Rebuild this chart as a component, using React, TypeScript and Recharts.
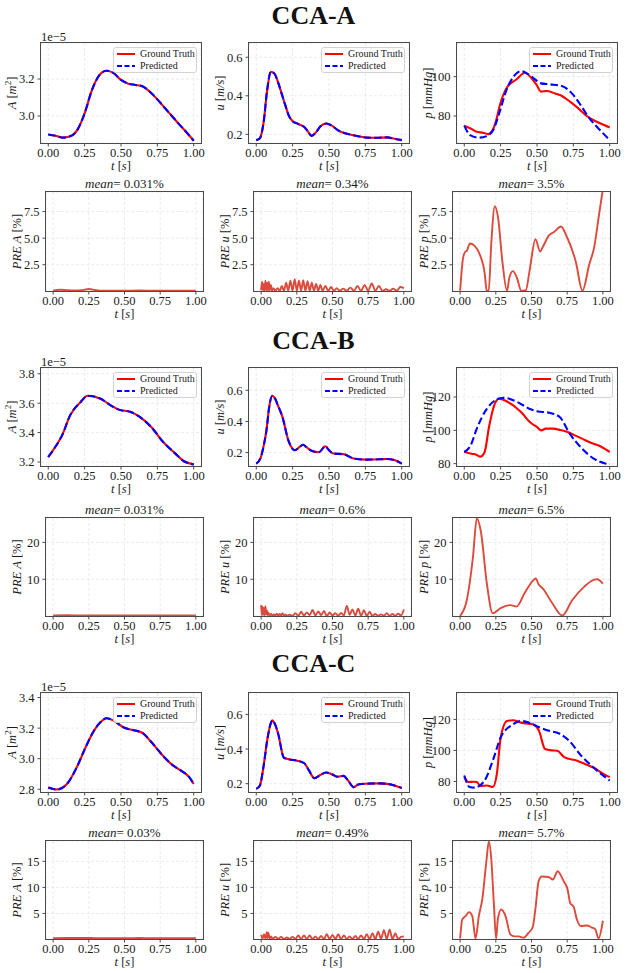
import React from 'react';
import { LineChart, Line, XAxis, YAxis, CartesianGrid, Legend, Label } from 'recharts';

// ---------------- DATA ----------------
const X_TICKS = [0, 0.25, 0.5, 0.75, 1];

// CCA-A
const tA_A = [0, 0.05, 0.1, 0.15, 0.2, 0.25, 0.3, 0.35, 0.4, 0.45, 0.5, 0.55, 0.6, 0.65, 0.7, 0.75, 0.8, 0.85, 0.9, 0.95, 1.0];
const vA_A = [2.9, 2.893, 2.883, 2.89, 2.925, 3.015, 3.14, 3.22, 3.245, 3.232, 3.195, 3.175, 3.168, 3.16, 3.13, 3.09, 3.045, 3.0, 2.955, 2.912, 2.866];
const tA_u = [0, 0.025, 0.05, 0.075, 0.1, 0.125, 0.15, 0.175, 0.2, 0.225, 0.25, 0.275, 0.3, 0.33, 0.355, 0.38, 0.41, 0.44, 0.48, 0.52, 0.56, 0.6, 0.65, 0.7, 0.76, 0.82, 0.9, 0.95, 1.0];
const vA_u = [0.17, 0.18, 0.26, 0.43, 0.525, 0.515, 0.47, 0.41, 0.35, 0.295, 0.268, 0.258, 0.25, 0.238, 0.215, 0.192, 0.21, 0.24, 0.256, 0.245, 0.222, 0.208, 0.198, 0.19, 0.183, 0.182, 0.184, 0.177, 0.17];
const tA_pGT = [0, 0.04, 0.085, 0.13, 0.165, 0.195, 0.22, 0.245, 0.29, 0.36, 0.417, 0.463, 0.5, 0.527, 0.567, 0.62, 0.658, 0.727, 0.79, 0.842, 0.9, 0.933, 1.0];
const vA_pGT = [75.1, 73.8, 72.0, 71.5, 70.8, 72.9, 78, 85.6, 94.1, 98.7, 102.0, 99.2, 95.5, 92.4, 92.7, 91.6, 90.7, 87.3, 83.5, 80.0, 77.5, 76.3, 74.2];
const tA_pPR = [0, 0.04, 0.1, 0.154, 0.2, 0.24, 0.29, 0.36, 0.39, 0.43, 0.48, 0.527, 0.589, 0.67, 0.74, 0.8, 0.853, 0.933, 1.0];
const vA_pPR = [75.1, 70.3, 69.0, 69.8, 73.0, 81.4, 93.2, 101.7, 102.9, 101.7, 99.0, 96.6, 96.1, 95.3, 91.5, 85.6, 79.6, 72.9, 67.8];
const tA_preA = [0, 0.05, 0.1, 0.15, 0.2, 0.25, 0.3, 0.35, 0.4, 0.5, 0.6, 0.7, 0.8, 0.9, 1.0];
const vA_preA = [0.05, 0.15, 0.1, 0.08, 0.1, 0.22, 0.1, 0.05, 0.06, 0.05, 0.08, 0.06, 0.05, 0.07, 0.05];
const tA_preU = [0, 0.006, 0.012, 0.018, 0.024, 0.03, 0.036, 0.042, 0.048, 0.054, 0.06, 0.068, 0.076, 0.085, 0.1, 0.115, 0.13, 0.145, 0.16, 0.175, 0.19, 0.205, 0.22, 0.235, 0.25, 0.265, 0.28, 0.295, 0.31, 0.325, 0.34, 0.355, 0.37, 0.385, 0.4, 0.415, 0.43, 0.45, 0.47, 0.49, 0.51, 0.53, 0.55, 0.575, 0.6, 0.625, 0.65, 0.675, 0.7, 0.725, 0.75, 0.775, 0.8, 0.825, 0.85, 0.875, 0.9, 0.925, 0.95, 0.975, 1.0];
const vA_preU = [0.1, 0.9, 0.1, 0.7, 0.05, 1.0, 0.1, 0.8, 0.05, 0.9, 0.1, 0.6, 0.05, 0.3, 0.05, 0.3, 0.05, 0.5, 0.05, 0.8, 0.05, 1.0, 0.05, 1.15, 0.05, 1.0, 0.05, 1.05, 0.05, 0.95, 0.05, 0.8, 0.05, 0.7, 0.05, 0.6, 0.05, 0.5, 0.05, 0.4, 0.05, 0.3, 0.05, 0.25, 0.05, 0.35, 0.05, 0.5, 0.05, 0.6, 0.05, 0.75, 0.05, 0.5, 0.05, 0.2, 0.05, 0.25, 0.05, 0.4, 0.3];
const tA_preP = [0, 0.02, 0.035, 0.047, 0.068, 0.1, 0.138, 0.173, 0.186, 0.2, 0.219, 0.243, 0.266, 0.296, 0.328, 0.345, 0.37, 0.397, 0.428, 0.46, 0.486, 0.528, 0.56, 0.58, 0.625, 0.66, 0.707, 0.742, 0.81, 0.857, 0.904, 0.94, 0.973, 1.0];
const vA_preP = [0.05, 3.1, 3.7, 3.8, 4.5, 4.3, 3.45, 1.6, 0.05, 0.05, 4.7, 8.0, 6.9, 2.8, 0.05, 1.3, 1.9, 1.3, 0.05, 0.1, 1.9, 4.9, 3.75, 4.2, 5.3, 5.6, 6.1, 5.3, 2.8, 0.05, 2.5, 4.2, 7.2, 9.6];

// CCA-B
const tB_A = [0, 0.04, 0.095, 0.15, 0.22, 0.27, 0.36, 0.429, 0.485, 0.568, 0.624, 0.708, 0.79, 0.874, 0.93, 1.0];
const vB_A = [3.234, 3.29, 3.381, 3.517, 3.605, 3.65, 3.63, 3.585, 3.556, 3.54, 3.51, 3.438, 3.336, 3.257, 3.207, 3.184];
const tB_u = [0, 0.028, 0.05, 0.07, 0.09, 0.11, 0.13, 0.15, 0.18, 0.22, 0.265, 0.3, 0.322, 0.345, 0.38, 0.43, 0.475, 0.5, 0.53, 0.6, 0.67, 0.75, 0.85, 0.9, 0.95, 1.0];
const vB_u = [0.129, 0.161, 0.24, 0.343, 0.5, 0.565, 0.545, 0.5, 0.429, 0.28, 0.215, 0.238, 0.25, 0.235, 0.212, 0.202, 0.241, 0.215, 0.194, 0.19, 0.162, 0.155, 0.157, 0.159, 0.152, 0.129];
const tB_pGT = [0, 0.05, 0.083, 0.11, 0.14, 0.17, 0.21, 0.24, 0.3, 0.39, 0.45, 0.5, 0.53, 0.56, 0.61, 0.66, 0.71, 0.76, 0.81, 0.87, 0.92, 1.0];
const vB_pGT = [87, 86, 85.4, 84.2, 87, 102, 116, 119, 117, 111, 105, 102, 100, 101, 101, 100.2, 99, 97, 95, 92.5, 91, 87];
const tB_pPR = [0, 0.044, 0.086, 0.156, 0.225, 0.27, 0.364, 0.447, 0.5, 0.586, 0.656, 0.725, 0.81, 0.89, 0.975, 1.0];
const vB_pPR = [87, 91, 101, 113, 118.6, 119.5, 117, 113, 111.5, 110.5, 108, 98, 89, 83, 80, 79.6];
const tB_preA = [0, 0.1, 0.2, 0.3, 0.4, 0.5, 0.6, 0.7, 0.8, 0.9, 1.0];
const vB_preA = [0.2, 0.25, 0.2, 0.22, 0.2, 0.18, 0.2, 0.22, 0.2, 0.18, 0.2];
const tB_preU = [0, 0.005, 0.01, 0.015, 0.02, 0.025, 0.03, 0.035, 0.04, 0.045, 0.05, 0.06, 0.07, 0.08, 0.09, 0.1, 0.11, 0.12, 0.13, 0.14, 0.15, 0.16, 0.17, 0.18, 0.2, 0.22, 0.24, 0.26, 0.28, 0.3, 0.32, 0.34, 0.36, 0.38, 0.4, 0.42, 0.44, 0.46, 0.48, 0.5, 0.52, 0.54, 0.56, 0.58, 0.6, 0.62, 0.64, 0.66, 0.68, 0.7, 0.72, 0.74, 0.76, 0.78, 0.8, 0.82, 0.84, 0.86, 0.88, 0.9, 0.92, 0.94, 0.96, 0.98, 1.0];
const vB_preU = [3.0, 0.3, 2.6, 0.4, 2.2, 0.3, 2.7, 0.5, 1.6, 0.3, 1.0, 0.2, 0.6, 0.1, 0.5, 0.2, 0.7, 0.1, 0.6, 0.2, 0.8, 0.1, 0.5, 0.1, 0.4, 0.1, 0.8, 0.1, 1.2, 0.2, 1.0, 0.3, 1.7, 0.2, 1.3, 0.3, 1.4, 0.1, 1.0, 0.2, 0.8, 0.1, 0.9, 0.2, 2.8, 0.4, 1.8, 0.2, 2.0, 0.1, 1.6, 0.1, 1.2, 0.1, 0.6, 0.1, 0.5, 0.1, 0.8, 0.1, 0.6, 0.1, 0.7, 0.2, 1.8];
const tB_preP = [0, 0.047, 0.09, 0.117, 0.145, 0.187, 0.228, 0.284, 0.354, 0.395, 0.451, 0.507, 0.53, 0.55, 0.577, 0.646, 0.716, 0.786, 0.87, 0.94, 0.96, 1.0];
const vB_preP = [0.1, 4.4, 16.1, 26.5, 23, 8.9, 0.8, 2.2, 3.0, 2.6, 6.2, 9.5, 10.2, 8.6, 7.6, 3.5, 0.2, 4.4, 8.0, 9.9, 10.0, 8.8];

// CCA-C
const tC_A = [0, 0.058, 0.128, 0.197, 0.254, 0.312, 0.358, 0.4, 0.45, 0.519, 0.589, 0.646, 0.704, 0.773, 0.842, 0.91, 0.969, 1.0];
const vC_A = [2.811, 2.798, 2.834, 2.946, 3.069, 3.18, 3.238, 3.265, 3.249, 3.204, 3.186, 3.17, 3.114, 3.036, 2.968, 2.923, 2.879, 2.834];
const tC_u = [0, 0.025, 0.05, 0.075, 0.1, 0.11, 0.125, 0.15, 0.19, 0.23, 0.28, 0.33, 0.36, 0.4, 0.44, 0.48, 0.52, 0.56, 0.6, 0.63, 0.67, 0.7, 0.75, 0.85, 0.95, 1.0];
const vC_u = [0.17, 0.19, 0.3, 0.45, 0.55, 0.566, 0.55, 0.49, 0.35, 0.34, 0.333, 0.318, 0.28, 0.232, 0.25, 0.265, 0.255, 0.24, 0.245, 0.22, 0.18, 0.195, 0.2, 0.202, 0.19, 0.175];
const tC_pGT = [0, 0.03, 0.06, 0.086, 0.113, 0.155, 0.196, 0.224, 0.25, 0.293, 0.334, 0.39, 0.47, 0.514, 0.555, 0.6, 0.638, 0.69, 0.776, 0.83, 0.887, 0.956, 1.0];
const vC_pGT = [82.8, 79.6, 79.8, 79.6, 77, 77.4, 76.4, 84.9, 108, 119, 119.4, 117.9, 116.8, 112.6, 100.9, 100, 99.8, 95.5, 93.4, 91.3, 89, 84.9, 82.8];
const tC_pPR = [0, 0.036, 0.07, 0.14, 0.196, 0.25, 0.334, 0.39, 0.445, 0.514, 0.583, 0.652, 0.721, 0.804, 0.887, 1.0];
const vC_pPR = [83.8, 76.4, 76.0, 80.6, 93.4, 108.3, 116.8, 119, 117.9, 115, 112.6, 110.9, 106.2, 96.6, 89.1, 80.6];
const tC_preA = [0, 0.1, 0.2, 0.3, 0.4, 0.5, 0.6, 0.7, 0.8, 0.9, 1.0];
const vC_preA = [0.25, 0.28, 0.3, 0.27, 0.25, 0.26, 0.28, 0.26, 0.25, 0.27, 0.25];
const tC_preU = [0, 0.01, 0.02, 0.03, 0.04, 0.045, 0.05, 0.06, 0.07, 0.08, 0.1, 0.12, 0.14, 0.16, 0.18, 0.2, 0.22, 0.24, 0.26, 0.28, 0.3, 0.32, 0.34, 0.36, 0.38, 0.4, 0.42, 0.44, 0.46, 0.48, 0.5, 0.52, 0.54, 0.56, 0.58, 0.6, 0.62, 0.64, 0.66, 0.68, 0.7, 0.72, 0.74, 0.76, 0.78, 0.8, 0.82, 0.84, 0.86, 0.88, 0.9, 0.92, 0.94, 0.96, 0.98, 1.0];
const vC_preU = [0.9, 0.2, 1.0, 0.2, 1.4, 0.3, 1.3, 0.2, 0.6, 0.1, 0.5, 0.1, 0.5, 0.1, 0.4, 0.1, 0.5, 0.1, 0.8, 0.1, 0.8, 0.1, 0.8, 0.1, 0.6, 0.1, 0.7, 0.1, 1.0, 0.1, 0.9, 0.1, 1.0, 0.1, 0.8, 0.1, 0.6, 0.1, 0.7, 0.1, 0.8, 0.1, 1.0, 0.1, 1.2, 0.1, 1.5, 0.1, 1.8, 0.1, 1.9, 0.1, 1.2, 0.1, 0.5, 0.6];
const tC_preP = [0, 0.015, 0.038, 0.062, 0.085, 0.108, 0.131, 0.155, 0.185, 0.201, 0.217, 0.236, 0.252, 0.264, 0.287, 0.318, 0.352, 0.38, 0.41, 0.445, 0.48, 0.508, 0.527, 0.55, 0.573, 0.62, 0.65, 0.683, 0.725, 0.753, 0.771, 0.795, 0.818, 0.846, 0.888, 0.923, 0.946, 0.97, 1.0];
const vC_preP = [0.2, 3.85, 4.5, 5.25, 4.5, 0.2, 4.5, 7.7, 15.3, 18.8, 15.9, 7.0, 0.2, 3.85, 5.76, 4.5, 1.0, 0.6, 0.6, 0.36, 1.3, 2.3, 5.76, 11.2, 12.1, 12.0, 11.5, 13.1, 11.2, 9.6, 7.0, 6.3, 3.85, 2.6, 2.7, 2.3, 2.0, 0.2, 3.6];

const GROUP_TITLES = ['CCA-A', 'CCA-B', 'CCA-C'];
const MEAN_LABELS = [
  ['0.031%', '0.34%', '3.5%'],
  ['0.031%', '0.6%', '6.5%'],
  ['0.03%', '0.49%', '5.7%'],
];
const LEGEND_NAMES = ['Ground Truth', 'Predicted'];

// ---------------- STYLE / LAYOUT ----------------
const FONT = '"Liberation Serif", "Times New Roman", serif';
const TXT = '#1a1a1a';
const SPINE = '#4a4a4a';
const RED = '#ff0000';
const BLUE = '#0000ff';
const PRE_RED = '#dc4a3c';
const X_DOMAIN: [number, number] = [-0.05, 1.05];

const ML = 45, MT = 5, MR = 5, XH = 35;

type Seg = { s: string; i?: boolean; sup?: boolean };

const zip = (t: number[], v: number[]) => t.map((x, k) => ({ t: x, v: v[k] }));

function renderSegs(list: Seg[]) {
  const out: any[] = [];
  let prevSup = false;
  list.forEach((g, k) => {
    let dy: number | undefined = undefined;
    if (g.sup) dy = -5;
    else if (prevSup) dy = 5;
    out.push(
      <tspan key={k} fontStyle={g.i ? 'italic' : 'normal'} fontSize={g.sup ? 9 : undefined} dy={dy}>
        {g.s}
      </tspan>
    );
    prevSup = !!g.sup;
  });
  return out;
}

const T_LABEL: Seg[] = [{ s: 't', i: true }, { s: ' [' }, { s: 's', i: true }, { s: ']' }];

type SeriesDef = { data: { t: number; v: number }[]; color: string; width: number; dash?: string; name: string };

type PanelProps = {
  left: number; top: number; w: number; h: number;
  yDomain: [number, number]; yTicks: number[]; yDigits: number;
  yLabel: Seg[]; series: SeriesDef[]; legend?: boolean;
};

function LegendBox() {
  const row = (color: string, dash: string | undefined, name: string) => (
    <div style={{ height: 12, display: 'flex', alignItems: 'center' }}>
      <svg width={26} height={12} style={{ display: 'block' }}>
        <line x1={3} y1={6} x2={21} y2={6} stroke={color} strokeWidth={2} strokeDasharray={dash} />
      </svg>
      <span style={{ fontFamily: FONT, fontSize: 10, color: TXT, whiteSpace: 'nowrap', lineHeight: '12px' }}>{name}</span>
    </div>
  );
  return (
    <div style={{ width: 84, height: 26, boxSizing: 'border-box', border: '1px solid #d2d2d2', borderRadius: 3, background: 'rgba(255,255,255,0.85)' }}>
      {row(RED, undefined, LEGEND_NAMES[0])}
      {row(BLUE, '5 2.5', LEGEND_NAMES[1])}
    </div>
  );
}

function Panel(p: PanelProps) {
  const xLabel = () => {
    const x = ML + p.w / 2;
    const y = MT + p.h + 27;
    return (
      <text x={x} y={y} textAnchor="middle" fontFamily={FONT} fontSize={12.5} fill={TXT}>
        {renderSegs(T_LABEL)}
      </text>
    );
  };
  const yLabel = () => {
    const x = ML - 25;
    const y = MT + p.h / 2;
    return (
      <text x={x} y={y} transform={`rotate(-90 ${x} ${y})`} textAnchor="middle" fontFamily={FONT} fontSize={12.5} fill={TXT}>
        {renderSegs(p.yLabel)}
      </text>
    );
  };
  const tickStyle = { fontSize: 12.5, fill: TXT, fontFamily: FONT };
  return (
    <div style={{ position: 'absolute', left: p.left - ML, top: p.top - MT }}>
      <LineChart width={ML + p.w + MR} height={MT + p.h + XH} margin={{ top: MT, right: MR, left: 0, bottom: 0 }}>
        <CartesianGrid stroke="#e6e6e6" strokeDasharray="3 2" strokeWidth={0.8} />
        <XAxis
          dataKey="t" type="number" domain={X_DOMAIN} ticks={X_TICKS} allowDataOverflow interval={0}
          height={XH} tickSize={3.5} tickMargin={1.5} tickFormatter={(v: number) => v.toFixed(2)}
          tick={tickStyle} axisLine={false} tickLine={{ stroke: SPINE }}
        >
          <Label content={xLabel} />
        </XAxis>
        <YAxis
          type="number" domain={p.yDomain} ticks={p.yTicks} allowDataOverflow interval={0} width={ML}
          tickSize={3.5} tickMargin={3} tickFormatter={(v: number) => v.toFixed(p.yDigits)}
          tick={tickStyle} axisLine={false} tickLine={{ stroke: SPINE }}
        >
          <Label content={yLabel} />
        </YAxis>
        {p.series.map((s, k) => (
          <Line
            key={k} data={s.data} dataKey="v" name={s.name} type="monotone" dot={false} activeDot={false}
            stroke={s.color} strokeWidth={s.width} strokeDasharray={s.dash} isAnimationActive={false}
          />
        ))}
        {p.legend && (
          <Legend
            layout="horizontal" verticalAlign="middle" align="center"
            wrapperStyle={{ left: ML + p.w - 4 - 84, top: MT + 4, width: 84, height: 26, bottom: 'auto', right: 'auto' }}
            content={() => <LegendBox />}
          />
        )}
      </LineChart>
      <div
        style={{
          position: 'absolute', left: ML - 0.6, top: MT - 0.6, width: p.w + 1.2, height: p.h + 1.2,
          boxSizing: 'border-box', border: `1.2px solid ${SPINE}`, pointerEvents: 'none',
        }}
      />
    </div>
  );
}

const COLS_STATE = [41, 249, 457];
const COLS_PRE = [46, 254, 453];
const W_STATE = 160;
const W_PRE = 157;
const ROWS = [
  { stateTop: 43, stateH: 100, preTop: 192, preH: 99, titleY: 15 },
  { stateTop: 368, stateH: 98, preTop: 518, preH: 98, titleY: 340 },
  { stateTop: 693, stateH: 99, preTop: 841, preH: 98, titleY: 663.5 },
];

const Y_A: Seg[] = [{ s: 'A', i: true }, { s: ' [' }, { s: 'm', i: true }, { s: '2', sup: true }, { s: ']' }];
const Y_U: Seg[] = [{ s: 'u', i: true }, { s: ' [' }, { s: 'm/s', i: true }, { s: ']' }];
const Y_P: Seg[] = [{ s: 'p', i: true }, { s: ' [' }, { s: 'mmHg', i: true }, { s: ']' }];
const Y_PA: Seg[] = [{ s: 'PRE A', i: true }, { s: ' [%]' }];
const Y_PU: Seg[] = [{ s: 'PRE u', i: true }, { s: ' [%]' }];
const Y_PP: Seg[] = [{ s: 'PRE p', i: true }, { s: ' [%]' }];

const GROUPS = [
  {
    A: zip(tA_A, vA_A), u: zip(tA_u, vA_u), pGT: zip(tA_pGT, vA_pGT), pPR: zip(tA_pPR, vA_pPR),
    preA: zip(tA_preA, vA_preA), preU: zip(tA_preU, vA_preU), preP: zip(tA_preP, vA_preP),
    dA: [2.854, 3.395] as [number, number], tkA: [3.0, 3.2],
    dU: [0.155, 0.674] as [number, number], tkU: [0.2, 0.4, 0.6],
    dP: [66.3, 117.1] as [number, number], tkP: [80, 100],
    dPre: [0.03, 9.34] as [number, number], tkPre: [2.5, 5.0, 7.5], preDigits: 1,
  },
  {
    A: zip(tB_A, vB_A), u: zip(tB_u, vB_u), pGT: zip(tB_pGT, vB_pGT), pPR: zip(tB_pPR, vB_pPR),
    preA: zip(tB_preA, vB_preA), preU: zip(tB_preU, vB_preU), preP: zip(tB_preP, vB_preP),
    dA: [3.173, 3.839] as [number, number], tkA: [3.2, 3.4, 3.6, 3.8],
    dU: [0.114, 0.743] as [number, number], tkU: [0.2, 0.4, 0.6],
    dP: [78.6, 137.4] as [number, number], tkP: [80, 100, 120],
    dPre: [0.05, 26.6] as [number, number], tkPre: [10, 20], preDigits: 0,
  },
  {
    A: zip(tC_A, vC_A), u: zip(tC_u, vC_u), pGT: zip(tC_pGT, vC_pGT), pPR: zip(tC_pPR, vC_pPR),
    preA: zip(tC_preA, vC_preA), preU: zip(tC_preU, vC_preU), preP: zip(tC_preP, vC_preP),
    dA: [2.782, 3.43] as [number, number], tkA: [2.8, 3.0, 3.2, 3.4],
    dU: [0.152, 0.724] as [number, number], tkU: [0.2, 0.4, 0.6],
    dP: [73.2, 137] as [number, number], tkP: [80, 100, 120],
    dPre: [0.1, 18.9] as [number, number], tkPre: [5, 10, 15], preDigits: 0,
  },
];

const gt = (data: any): SeriesDef => ({ data, color: RED, width: 2.1, name: LEGEND_NAMES[0] });
const pr = (data: any): SeriesDef => ({ data, color: BLUE, width: 2.1, dash: '7.4 3.2', name: LEGEND_NAMES[1] });
const pre = (data: any): SeriesDef => ({ data, color: PRE_RED, width: 1.9, name: 'PRE' });

export default function App() {
  return (
    <div style={{ position: 'absolute', left: 0, top: 0, width: 627, height: 973, background: '#fff', overflow: 'hidden' }}>
      {GROUPS.map((g, gi) => {
        const r = ROWS[gi];
        return (
          <React.Fragment key={gi}>
            <Panel left={COLS_STATE[0]} top={r.stateTop} w={W_STATE} h={r.stateH} yDomain={g.dA} yTicks={g.tkA} yDigits={1} yLabel={Y_A} series={[gt(g.A), pr(g.A)]} legend />
            <Panel left={COLS_STATE[1]} top={r.stateTop} w={W_STATE} h={r.stateH} yDomain={g.dU} yTicks={g.tkU} yDigits={1} yLabel={Y_U} series={[gt(g.u), pr(g.u)]} legend />
            <Panel left={COLS_STATE[2]} top={r.stateTop} w={W_STATE} h={r.stateH} yDomain={g.dP} yTicks={g.tkP} yDigits={0} yLabel={Y_P} series={[gt(g.pGT), pr(g.pPR)]} legend />
            <Panel left={COLS_PRE[0]} top={r.preTop} w={W_PRE} h={r.preH} yDomain={g.dPre} yTicks={g.tkPre} yDigits={g.preDigits} yLabel={Y_PA} series={[pre(g.preA)]} />
            <Panel left={COLS_PRE[1]} top={r.preTop} w={W_PRE} h={r.preH} yDomain={g.dPre} yTicks={g.tkPre} yDigits={g.preDigits} yLabel={Y_PU} series={[pre(g.preU)]} />
            <Panel left={COLS_PRE[2]} top={r.preTop} w={W_PRE} h={r.preH} yDomain={g.dPre} yTicks={g.tkPre} yDigits={g.preDigits} yLabel={Y_PP} series={[pre(g.preP)]} />
          </React.Fragment>
        );
      })}
      <svg width={627} height={973} style={{ position: 'absolute', left: 0, top: 0, pointerEvents: 'none' }}>
        {GROUPS.map((_, gi) => {
          const r = ROWS[gi];
          return (
            <g key={gi}>
              <text x={313.5} y={r.titleY + 8.6} textAnchor="middle" fontFamily={FONT} fontWeight="bold" fontSize={26} fill="#111">
                {GROUP_TITLES[gi]}
              </text>
              <text x={COLS_STATE[0]} y={r.stateTop - 2} fontFamily={FONT} fontSize={12.5} fill={TXT}>1e−5</text>
              {MEAN_LABELS[gi].map((m, ci) => (
                <text key={ci} x={COLS_PRE[ci] + W_PRE / 2} y={r.preTop - 4} textAnchor="middle" fontFamily={FONT} fontSize={13} fill={TXT}>
                  <tspan fontStyle="italic">mean</tspan>
                  <tspan>{'= ' + m}</tspan>
                </text>
              ))}
            </g>
          );
        })}
      </svg>
    </div>
  );
}
